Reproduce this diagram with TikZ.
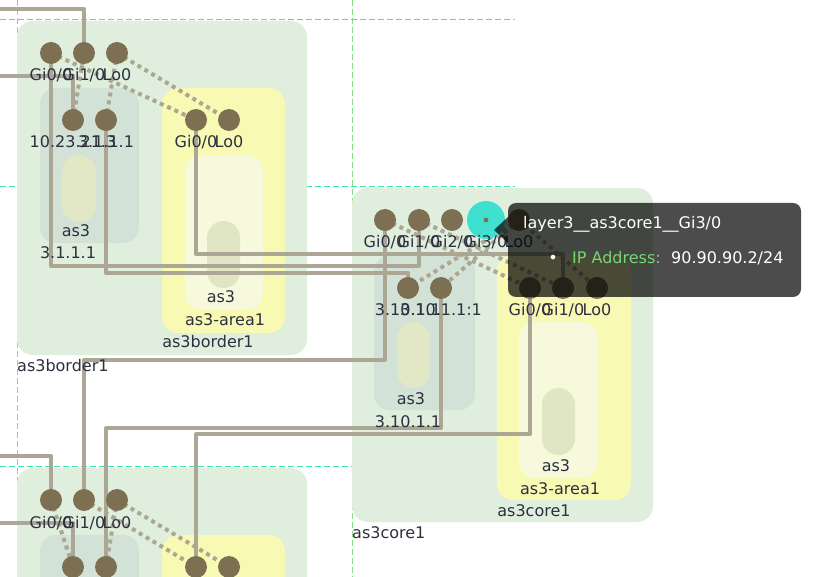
\documentclass[tikz,border=0pt]{standalone}
\usepackage{fontspec}
\setmainfont{DejaVu Sans}
\pgfdeclarelayer{back}
\pgfdeclarelayer{lnk}
\pgfdeclarelayer{front}
\pgfsetlayers{back,lnk,main,front}
\definecolor{lk}{RGB}{172,166,148}
\definecolor{tpc}{RGB}{125,112,82}
\definecolor{txt}{RGB}{45,48,64}
\definecolor{gout}{RGB}{223,238,221}
\definecolor{rtr}{RGB}{211,226,215}
\definecolor{rpill}{RGB}{226,231,197}
\definecolor{ylw}{RGB}{248,249,178}
\definecolor{ylwin}{RGB}{246,249,219}
\definecolor{apill}{RGB}{224,230,196}
\definecolor{dh}{RGB}{64,228,170}
\definecolor{dv}{RGB}{130,224,130}
\definecolor{turq}{RGB}{64,224,208}
\definecolor{ipg}{RGB}{118,214,114}
\tikzset{
  tp/.style={circle,fill=tpc,minimum size=22pt,inner sep=0pt},
  lbl/.style={font=\fontsize{16}{19}\selectfont,text=txt,inner sep=0pt,anchor=base},
  lbll/.style={lbl,anchor=base west},
  link/.style={draw=lk,line width=4pt,line join=round},
  supp/.style={draw=lk,line width=4pt,dash pattern=on 4pt off 4pt},
  dashh/.style={draw=dh,line width=1pt,dash pattern=on 6pt off 3pt},
  dashv/.style={draw=dv,line width=1pt,dash pattern=on 6pt off 3pt},
  box/.style={rounded corners=16pt},
}
\begin{document}
\begin{tikzpicture}[x=1pt,y=-1pt]
\useasboundingbox (0,0) rectangle (830,577);
\clip (0,0) rectangle (830,577);
% ---------- background: frames and boxes
\begin{pgfonlayer}{back}
\fill[white] (0,0) rectangle (830,577);
\draw[dashv] (17,0) -- (17,577);
\draw[dashv] (352,0) -- (352,577);
\draw[dashh] (0,20) -- (515,20);
\draw[dashh] (0,187) -- (515,187);
\draw[dashh] (0,466) -- (352,466);
% as3border1 (top)
\fill[gout,box] (17,21) rectangle (307,355);
\fill[rtr,box] (40,88) rectangle (139,243);
\fill[rpill,rounded corners=17pt] (62,155) rectangle (96,222);
\fill[ylw,box] (162,88) rectangle (285,333);
\fill[ylwin,box] (185,155) rectangle (263,310);
\fill[apill,rounded corners=16.5pt] (207,221) rectangle (240,288);
% as3border (bottom)
\fill[gout,box] (17,468) rectangle (307,802);
\fill[rtr,box] (40,535) rectangle (139,690);
\fill[ylw,box] (162,535) rectangle (285,780);
% as3core1
\fill[gout,box] (352,188) rectangle (653,522);
\fill[rtr,box] (374,255) rectangle (475,410);
\fill[rpill,rounded corners=16.5pt] (397,322) rectangle (430,388);
\fill[ylw,box] (497,255) rectangle (631,500);
\fill[ylwin,box] (519,322) rectangle (598,478);
\fill[apill,rounded corners=16.5pt] (542,388) rectangle (575,455);
\end{pgfonlayer}
% ---------- frame and box labels
\node[lbll] (fr1) at (17,371) {as3border1};
\node[lbll] (fr2) at (352,538) {as3core1};
\node[lbl] (b1n) at (208,348) {as3border1};
\node[lbl] (b1a1) at (225,326) {as3-area1};
\node[lbl] (b1a2) at (221,303) {as3};
\node[lbl] (b1r1) at (76,237) {as3};
\node[lbl] (b1r2) at (68,259) {3.1.1.1};
\node[lbl] (c1n) at (534,516) {as3core1};
\node[lbl] (c1a1) at (560,494) {as3-area1};
\node[lbl] (c1a2) at (556,471) {as3};
\node[lbl] (c1r1) at (411,404) {as3};
\node[lbl] (c1r2) at (408,427) {3.10.1.1};
% ---------- terminal points: top border
\node[tp] (Tg0) at (51,53) {};
\node[tp] (Tg1) at (84,53) {};
\node[tp] (Tlo) at (117,53) {};
\node[tp] (Tra) at (73,120) {};
\node[tp] (Trb) at (106,120) {};
\node[tp] (Taa) at (196,120) {};
\node[tp] (Tal) at (229,120) {};
\node[lbl] at (51,81) {Gi0/0};
\node[lbl] at (84,81) {Gi1/0};
\node[lbl] at (117,81) {Lo0};
\node[lbl] at (73,148) {10.23.21.3};
\node[lbl] at (106,148) {3.1.1.1};
\node[lbl] at (196,148) {Gi0/0};
\node[lbl] at (229,148) {Lo0};
% ---------- terminal points: bottom border
\node[tp] (Bg0) at (51,500) {};
\node[tp] (Bg1) at (84,500) {};
\node[tp] (Blo) at (117,500) {};
\node[tp] (Bra) at (73,567) {};
\node[tp] (Brb) at (106,567) {};
\node[tp] (Baa) at (196,567) {};
\node[tp] (Bal) at (229,567) {};
\node[lbl] at (51,528) {Gi0/0};
\node[lbl] at (84,528) {Gi1/0};
\node[lbl] at (117,528) {Lo0};
% ---------- terminal points: core
\node[tp] (Cg0) at (385,220) {};
\node[tp] (Cg1) at (419,220) {};
\node[tp] (Cg2) at (452,220) {};
\node[circle,fill=turq,minimum size=38pt,inner sep=0pt] (Cg3) at (486,220) {};
\fill[tpc] (Cg3.center) circle[radius=2.4pt];
\node[tp] (Clo) at (519,220) {};
\node[tp] (Cr1) at (408,288) {};
\node[tp] (Cr2) at (441,288) {};
\node[tp] (Ca0) at (530,288) {};
\node[tp] (Ca1) at (563,288) {};
\node[tp] (Cal) at (597,288) {};
\node[lbl] at (385,248) {Gi0/0};
\node[lbl] at (419,248) {Gi1/0};
\node[lbl] at (452,248) {Gi2/0};
\node[lbl] at (486,248) {Gi3/0};
\node[lbl] at (519,248) {Lo0};
\node[lbl] at (408,316) {3.10.1.1};
\node[lbl] at (441,316) {3.10.1.1:1};
\node[lbl] at (530,316) {Gi0/0};
\node[lbl] at (563,316) {Gi1/0};
\node[lbl] at (597,316) {Lo0};
% ---------- free ends
\coordinate (eT1) at (0,9);
\coordinate (eT2) at (0,76);
\coordinate (eB1) at (0,456);
\coordinate (eB2) at (0,523);
% ---------- links and support lines
\begin{pgfonlayer}{lnk}
\draw[link] (eT1) -| (Tg1.center);
\draw[link] (eT2) -| (Tra.center);
\draw[link] (Tg0.center) -- (Tg0.center |- 0,266) -| (Cg1.center);
\draw[link] (Trb.center) -- (Trb.center |- 0,273) -| (Cr1.center);
\draw[link] (Taa.center) -- (Taa.center |- 0,254) -| (Ca1.center);
\draw[link] (Cg0.center) -- (Cg0.center |- 0,360) -| (Bg1.center);
\draw[link] (Cr2.center) -- (Cr2.center |- 0,428) -| (Brb.center);
\draw[link] (Ca0.center) -- (Ca0.center |- 0,434) -| (Baa.center);
\draw[link] (eB1) -| (Bg0.center);
\draw[link] (eB2) -| (Bra.center);
% support (top border)
\draw[supp] (Tg1.center) -- (Tra.center);
\draw[supp] (Tlo.center) -- (Trb.center);
\draw[supp] (Tg0.center) -- (Taa.center);
\draw[supp] (Tlo.center) -- (Tal.center);
% support (bottom border)
\draw[supp] (Bg0.center) -- (Bra.center);
\draw[supp] (Blo.center) -- (Brb.center);
\draw[supp] (Bg1.center) -- (Baa.center);
\draw[supp] (Blo.center) -- (Bal.center);
% support (core)
\draw[supp] (Cg0.center) -- (Ca0.center);
\draw[supp] (Cg1.center) -- (Ca1.center);
\draw[supp] (Clo.center) -- (Cr1.center);
\draw[supp] (Clo.center) -- (Cr2.center);
\draw[supp] (Clo.center) -- (Cal.center);
\end{pgfonlayer}
% ---------- tooltip
\begin{pgfonlayer}{front}
\fill[black,opacity=0.7] (508,203) [rounded corners=8pt] rectangle (801,297)
  [sharp corners] (508,217) -- (494,230) -- (508,243) -- cycle;
\node[lbll,text=white] (tt1) at (523,229) {layer3\_\_as3core1\_\_Gi3/0};
\node[lbl,text=white] (tt2) at (553,264) {•};
\node[lbll,text=ipg] (tt3) at (572,264) {IP Address:};
\node[lbll,text=white] (tt4) at (671,264) {90.90.90.2/24};
\end{pgfonlayer}
\end{tikzpicture}
\end{document}
